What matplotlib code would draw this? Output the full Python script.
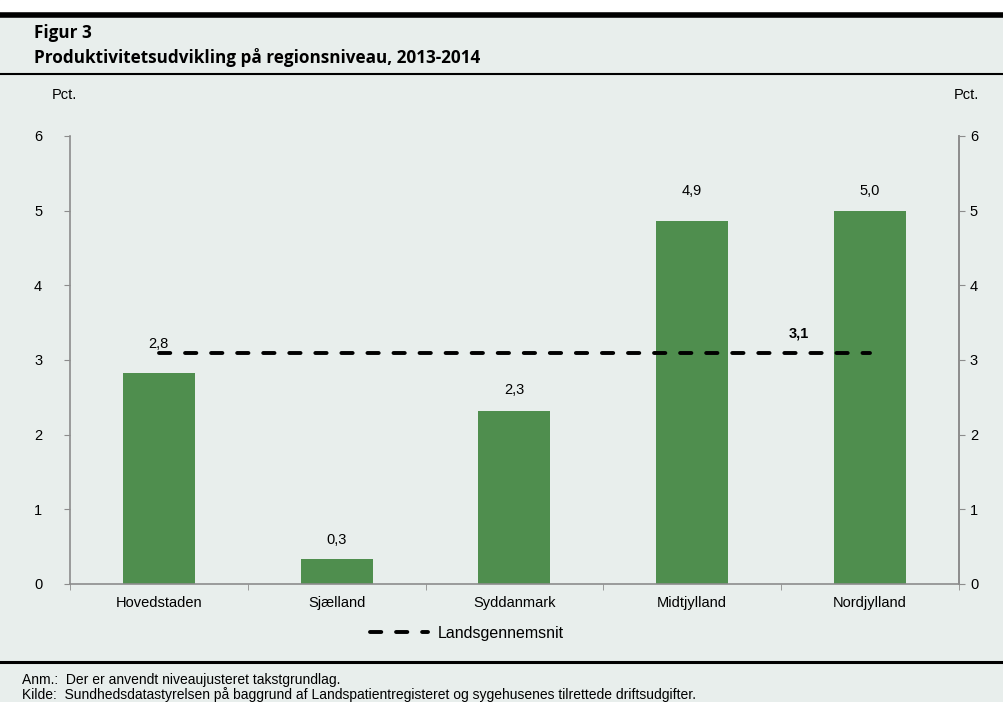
import numpy as np
import matplotlib.pyplot as plt
from matplotlib.lines import Line2D

regions = ["Hovedstaden", "Sjælland", "Syddanmark", "Midtjylland", "Nordjylland"]
values = [2.83, 0.33, 2.32, 4.86, 4.99]
value_labels = ["2,8", "0,3", "2,3", "4,9", "5,0"]
avg_value = 3.1
avg_label = "3,1"
yticks = [0, 1, 2, 3, 4, 5, 6]

# label offsets (points) as placed in the original
label_offsets = [21, 14, 15, 22, 15]

bg = "#E8EEEC"
bar_color = "#4F8E4E"
spine_color = "#8C8C8C"

plt.rcParams['font.family'] = ['Liberation Sans', 'DejaVu Sans']

fig = plt.figure(figsize=(10.04, 7.02), dpi=100, facecolor=bg)
ax = fig.add_axes([0.0697, 0.1681, 0.8853, 0.6382])
ax.set_facecolor(bg)

x = np.arange(len(regions))
ax.bar(x, values, width=0.405, color=bar_color, zorder=2)
for xi, v, lab, off in zip(x, values, value_labels, label_offsets):
    ax.annotate(lab, (xi, v), xytext=(0, off), textcoords="offset points",
                ha="center", va="center", fontsize=10.5)

dash_kw = dict(color="black", lw=2.8, dashes=(2.9, 3.8), dash_capstyle="round")
ax.plot([x[0], x[-1]], [avg_value, avg_value], zorder=3, **dash_kw)
ax.annotate(avg_label, (x[-1] - 0.4, avg_value), xytext=(0, 14),
            textcoords="offset points", ha="center", va="center",
            fontsize=10.5, fontweight="bold")

ax.set_xlim(-0.5, len(regions) - 0.5)
ax.set_ylim(0, 6)
ax.set_yticks(yticks)
ax.set_yticklabels([str(t) for t in yticks], fontsize=10.5)
ax.set_xticks(x)
ax.set_xticklabels(regions, fontsize=10.5)
ax.tick_params(axis="x", length=0, pad=9)
ax.set_xticks(np.arange(-0.5, len(regions), 1.0), minor=True)
ax.tick_params(axis="x", which="minor", length=4, color=spine_color)
ax.tick_params(axis="y", length=4, color=spine_color, pad=16)
ax.spines["top"].set_visible(False)
for s in ["left", "right", "bottom"]:
    ax.spines[s].set_color(spine_color)
    ax.spines[s].set_linewidth(1.2)

ax2 = ax.twinx()
ax2.set_ylim(0, 6)
ax2.set_yticks(yticks)
ax2.set_yticklabels([str(t) for t in yticks], fontsize=10.5)
ax2.tick_params(axis="y", length=4, color=spine_color, pad=4)
for s in ["top", "left", "bottom"]:
    ax2.spines[s].set_visible(False)
ax2.spines["right"].set_color(spine_color)
ax2.spines["right"].set_linewidth(1.2)

fig.text(0.052, 0.864, "Pct.", fontsize=10.5, ha="left", va="center")
fig.text(0.975, 0.864, "Pct.", fontsize=10.5, ha="right", va="center")

handle = Line2D([0], [0], **dash_kw)
fig.legend([handle], ["Landsgennemsnit"], loc="center", bbox_to_anchor=(0.465, 0.098),
           frameon=False, fontsize=11.5, handlelength=3.6, handletextpad=0.6)

# header and footer rules
fig.add_artist(plt.Rectangle((0, 0.981), 1, 0.019, color="white", transform=fig.transFigure, zorder=0))
fig.add_artist(Line2D([0, 1], [0.978, 0.978], color="black", lw=4, transform=fig.transFigure))
fig.add_artist(Line2D([0, 1], [0.895, 0.895], color="black", lw=1.5, transform=fig.transFigure))
fig.add_artist(Line2D([0, 1], [0.0575, 0.0575], color="black", lw=2.2, transform=fig.transFigure))

title_font = ["Open Sans", "DejaVu Sans"]
fig.text(0.034, 0.953, "Figur 3", fontsize=12.3, fontweight="bold", ha="left", va="center",
         family=title_font)
fig.text(0.034, 0.918, "Produktivitetsudvikling på regionsniveau, 2013-2014", fontsize=12.3,
         fontweight="bold", ha="left", va="center", family=title_font)

fig.text(0.022, 0.032, "Anm.:  Der er anvendt niveaujusteret takstgrundlag.", fontsize=10,
         ha="left", va="center")
fig.text(0.022, 0.011, "Kilde:  Sundhedsdatastyrelsen på baggrund af Landspatientregisteret og sygehusenes tilrettede driftsudgifter.",
         fontsize=10, ha="left", va="center")

fig.savefig("out.png", dpi=100, facecolor=bg)
